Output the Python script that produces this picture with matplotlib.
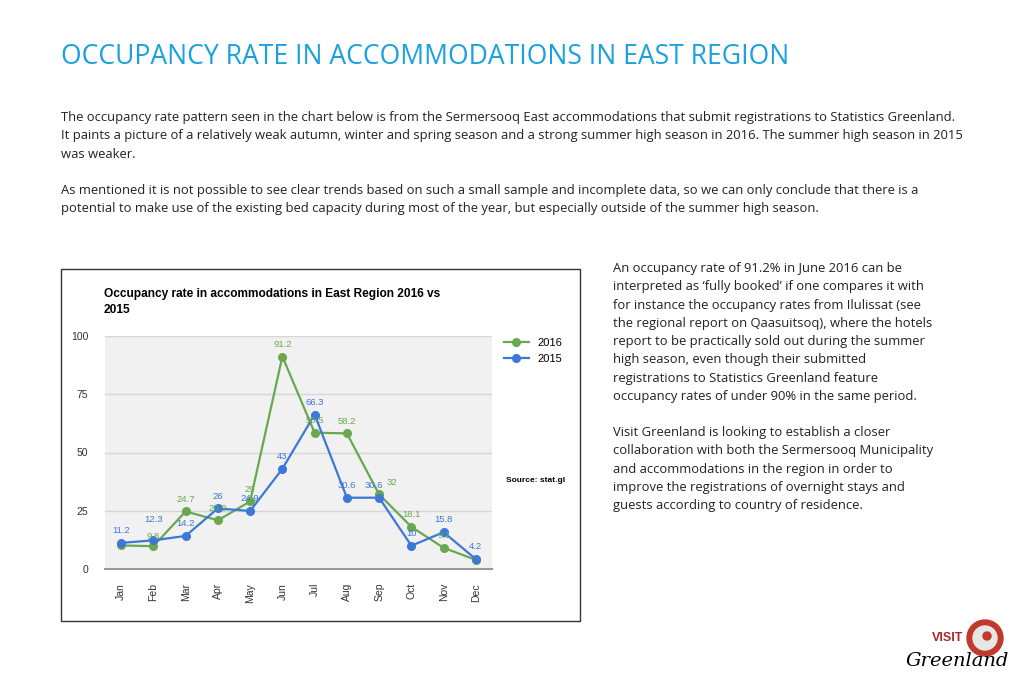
import matplotlib.pyplot as plt
from matplotlib.patches import Rectangle, Wedge, Circle

months = ["Jan", "Feb", "Mar", "Apr", "May", "Jun", "Jul", "Aug", "Sep", "Oct", "Nov", "Dec"]
occ_2016 = [10.1, 9.8, 24.7, 20.9, 29, 91.2, 58.5, 58.2, 32, 18.1, 9.1, 3.9]
occ_2015 = [11.2, 12.3, 14.2, 26, 24.9, 43, 66.3, 30.6, 30.6, 10, 15.8, 4.2]
labels_2016 = ["", "9.8", "24.7", "20.9", "29", "91.2", "58.5", "58.2", "32", "18.1", "9.1", ""]
labels_2015 = ["11.2", "12.3", "14.2", "26", "24.9", "43", "66.3", "30.6", "30.6", "10", "15.8", "4.2"]
yticks = [0, 25, 50, 75, 100]

green = "#6aa84f"
blue = "#3c78d8"
title_blue = "#1ba1df"
font = "Open Sans"

fig = plt.figure(figsize=(10.24, 6.83), dpi=100)
fig.patch.set_facecolor("white")

def fx(px):
    return px / 1024

def fy(py):
    return 1 - py / 683

# page title and text
fig.text(fx(61), fy(57), "OCCUPANCY RATE IN ACCOMMODATIONS IN EAST REGION", color=title_blue,
         fontsize=19.1, family=font, va="center")

para1 = ("The occupancy rate pattern seen in the chart below is from the Sermersooq East accommodations that submit registrations to Statistics Greenland.\n"
         "It paints a picture of a relatively weak autumn, winter and spring season and a strong summer high season in 2016. The summer high season in 2015\n"
         "was weaker.")
para2 = ("As mentioned it is not possible to see clear trends based on such a small sample and incomplete data, so we can only conclude that there is a\n"
         "potential to make use of the existing bed capacity during most of the year, but especially outside of the summer high season.")
body = dict(fontsize=9.4, family=font, va="top", linespacing=1.53, color="#222222")
fig.text(fx(61), fy(111), para1, **body)
fig.text(fx(61), fy(184), para2, **body)

side1 = ("An occupancy rate of 91.2% in June 2016 can be\n"
         "interpreted as \u2018fully booked\u2019 if one compares it with\n"
         "for instance the occupancy rates from Ilulissat (see\n"
         "the regional report on Qaasuitsoq), where the hotels\n"
         "report to be practically sold out during the summer\n"
         "high season, even though their submitted\n"
         "registrations to Statistics Greenland feature\n"
         "occupancy rates of under 90% in the same period.")
side2 = ("Visit Greenland is looking to establish a closer\n"
         "collaboration with both the Sermersooq Municipality\n"
         "and accommodations in the region in order to\n"
         "improve the registrations of overnight stays and\n"
         "guests according to country of residence.")
fig.text(fx(613), fy(262), side1, **body)
fig.text(fx(613), fy(426), side2, **body)

# chart frame
fig.patches.append(Rectangle((fx(61), fy(621)), fx(519), (621 - 269) / 683, transform=fig.transFigure,
                             fill=False, edgecolor="#333333", linewidth=1))
fig.text(fx(104), fy(302), "Occupancy rate in accommodations in East Region 2016 vs\n2015",
         fontsize=8.6, fontweight="bold", family="Liberation Sans", va="center", linespacing=1.35)

ax = fig.add_axes([fx(105), fy(569), fx(387), (569 - 336) / 683])
ax.set_facecolor("#f1f1f1")
x = list(range(len(months)))
ax.plot(x, occ_2016, color=green, marker="o", markersize=5.5, linewidth=1.6, label="2016")
ax.plot(x, occ_2015, color=blue, marker="o", markersize=5.5, linewidth=1.6, label="2015")

# small nudges where labels would sit on top of each other
nudge_2016 = {1: (0, 5), 8: (9, 7)}
nudge_2015 = {1: (0, 13), 8: (-4, 7)}
for i in x:
    if labels_2016[i]:
        ax.annotate(labels_2016[i], (i, occ_2016[i]), xytext=nudge_2016.get(i, (0, 7)), textcoords="offset points",
                    ha="center", fontsize=6.8, color=green, family="Liberation Sans")
    ax.annotate(labels_2015[i], (i, occ_2015[i]), xytext=nudge_2015.get(i, (0, 7)), textcoords="offset points",
                ha="center", fontsize=6.8, color=blue, family="Liberation Sans")

ax.set_xlim(-0.5, 11.5)
ax.set_ylim(0, 100)
ax.set_yticks(yticks)
ax.set_xticks(x)
ax.set_xticklabels(months, rotation=90, fontsize=7.5, family="Liberation Sans", color="#333333")
ax.set_yticklabels([str(t) for t in yticks], fontsize=7.5, family="Liberation Sans", color="#333333")
ax.tick_params(length=0, pad=10)
ax.tick_params(axis="y", pad=12)
ax.grid(axis="y", color="#d6d6d6", linewidth=1)
ax.set_axisbelow(True)
for s in ["top", "right", "left"]:
    ax.spines[s].set_visible(False)
ax.spines["bottom"].set_color("#999999")
ax.spines["bottom"].set_linewidth(1.5)

leg = ax.legend(loc="upper left", bbox_to_anchor=(1.02, 1.01), frameon=False,
                prop={"family": "Liberation Sans", "size": 8}, handlelength=2.2, borderaxespad=0)
fig.text(fx(506), fy(481), "Source: stat.gl", fontsize=6, fontweight="bold", family="Liberation Sans",
         va="center")

# logo
la = fig.add_axes([fx(900), fy(680), fx(120), 65 / 683])
la.set_xlim(0, 120)
la.set_ylim(0, 65)
la.axis("off")
la.add_patch(Wedge((85, 42), 18, 0, 360, width=6, color="#c0392b"))
la.add_patch(Circle((85, 42), 12, color="#e6e6e6"))
la.add_patch(Circle((87, 44), 4, color="#c0392b"))
la.text(32, 39, "VISIT", color="#a52a2a", fontsize=9, fontweight="bold", family="Liberation Sans")
la.text(6, 14, "Greenland", color="black", fontsize=14, style="italic", family="DejaVu Serif")

fig.savefig("out.png", dpi=100)
